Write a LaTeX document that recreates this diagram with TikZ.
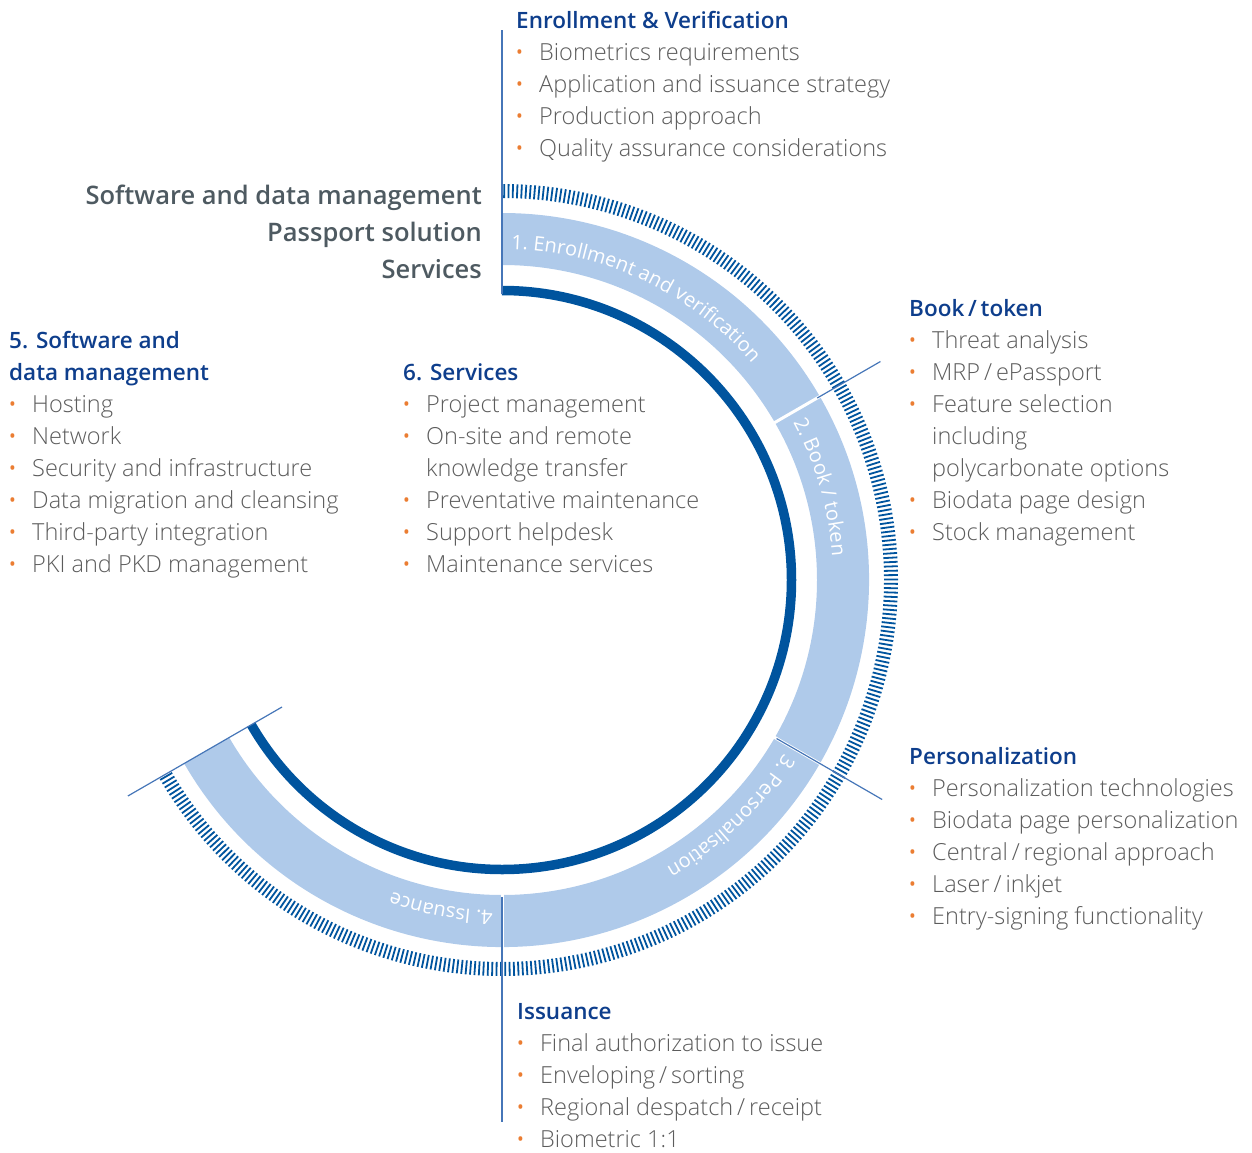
\documentclass[tikz,border=0pt]{standalone}
\usepackage{fontspec}
\setmainfont{Open Sans}[UprightFont=* Light, BoldFont=* Semibold]
\newfontfamily\arcfont{Open Sans}
\usetikzlibrary{decorations.text}
\definecolor{headblue}{RGB}{14, 62, 140}
\definecolor{ringblue}{RGB}{0, 84, 158}
\definecolor{bandblue}{RGB}{175, 202, 234}
\definecolor{lineblue}{RGB}{70, 118, 184}
\definecolor{textgray}{RGB}{92, 92, 92}
\definecolor{labelgray}{RGB}{78, 90, 97}
\definecolor{dotorange}{RGB}{235, 125, 50}
\newcommand{\hd}[1]{\textcolor{headblue}{\fontsize{22.5}{32}\selectfont\bfseries #1}}
\newcommand{\itm}{\makebox[23pt][l]{\hspace{-1.5pt}\textcolor{dotorange}{\raisebox{-1pt}{\fontsize{26}{26}\selectfont\textbullet}}}}
\newcommand{\cnt}{\hspace*{23pt}}
\newcommand{\arclabel}[1]{|\arcfont\fontsize{20}{20}\selectfont\color{white}|#1}

\begin{document}
\begin{tikzpicture}[x=1pt, y=1pt,
  listblock/.style={anchor=north west, inner sep=0pt, align=left, text=textgray, font=\fontsize{23.5}{32}\selectfont},
  tickmark/.style={ringblue, line width=1.8pt},
  divider/.style={lineblue, line width=1.2pt},
  gapline/.style={white, line width=3pt}]
  \useasboundingbox (-502,-572) rectangle (750,580);

  % band of the four steps
  \fill[bandblue] (90:315) arc[start angle=90, end angle=-150, radius=315]
    -- (-150:367) arc[start angle=-150, end angle=90, radius=367] -- cycle;
  % services ring
  \draw[ringblue, line width=9.5pt] (90:289.5) arc[start angle=90, end angle=-150, radius=289.5];
  % software ticks
  \foreach \i in {0,...,374}
    \draw[tickmark] ({89.68-0.64*\i}:382) -- ({89.68-0.64*\i}:396);

  % dividers
  \draw[divider] (90:286) -- (90:550);
  \foreach \a in {30,-30,-90}
    \draw[gapline] (\a:312) -- (\a:369);
  \draw[divider] (30:364) -- (30:437);
  \draw[divider] (-30:317) -- (-30:439);
  \draw[divider] (-90:317) -- (-90:542);
  \draw[divider] (210:254) -- (210:432);

  % step labels on the band
  \path[decorate, decoration={text along path, text align={left indent=9pt},
    text={\arclabel{1. Enrollment and verification}}}]
    (90:331) arc[start angle=90, end angle=30, radius=331];
  \path[decorate, decoration={text along path, text align={left indent=9pt},
    text={\arclabel{2. Book / token}}}]
    (30:331) arc[start angle=30, end angle=-30, radius=331];
  \path[decorate, decoration={text along path, text align={left indent=9pt},
    text={\arclabel{3. Personalisation}}}]
    (-30:331) arc[start angle=-30, end angle=-90, radius=331];
  \path[decorate, decoration={text along path, text align={left indent=9pt},
    text={\arclabel{4. Issuance}}}]
    (-90:331) arc[start angle=-90, end angle=-150, radius=331];

  % layer legend
  \node[anchor=north east, inner sep=0pt, align=right, text=labelgray,
    font=\bfseries\fontsize{25.5}{37}\selectfont] (layers) at (-20,395)
    {Software and data management\\Passport solution\\Services};

  % lists
  \node[listblock] (enroll) at (14,569) {\hd{Enrollment \& Verification}\\
    \itm Biometrics requirements\\
    \itm Application and issuance strategy\\
    \itm Production approach\\
    \itm Quality assurance considerations};
  \node[listblock] (book) at (407,281) {\hd{Book\,/\,token}\\
    \itm Threat analysis\\
    \itm MRP\,/\,ePassport\\
    \itm Feature selection\\
    \cnt including\\
    \cnt polycarbonate options\\
    \itm Biodata page design\\
    \itm Stock management};
  \node[listblock] (perso) at (407,-167) {\hd{Personalization}\\
    \itm Personalization technologies\\
    \itm Biodata page personalization\\
    \itm Central\,/\,regional approach\\
    \itm Laser\,/\,inkjet\\
    \itm Entry-signing functionality};
  \node[listblock] (issue) at (15,-423) {\hd{Issuance}\\
    \itm Final authorization to issue\\
    \itm Enveloping\,/\,sorting\\
    \itm Regional despatch\,/\,receipt\\
    \itm Biometric 1:1};
  \node[listblock] (softw) at (-493,249) {\hd{5. Software and}\\
    \hd{data management}\\
    \itm Hosting\\
    \itm Network\\
    \itm Security and infrastructure\\
    \itm Data migration and cleansing\\
    \itm Third-party integration\\
    \itm PKI and PKD management};
  \node[listblock] (serv) at (-99,217) {\hd{6. Services}\\
    \itm Project management\\
    \itm On-site and remote\\
    \cnt knowledge transfer\\
    \itm Preventative maintenance\\
    \itm Support helpdesk\\
    \itm Maintenance services};
\end{tikzpicture}
\end{document}
